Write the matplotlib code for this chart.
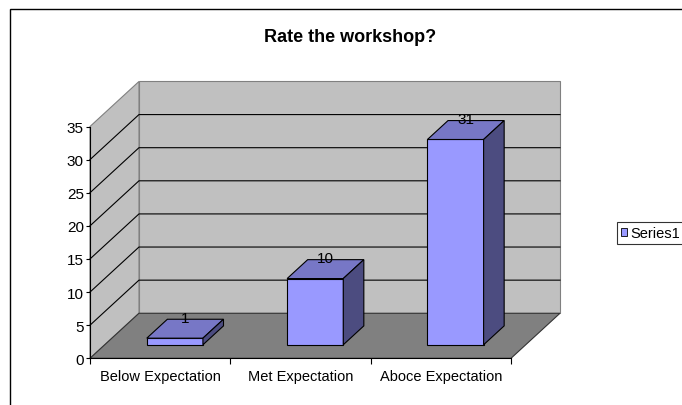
import matplotlib
matplotlib.use("Agg")
import matplotlib.pyplot as plt
from matplotlib.patches import Polygon, Patch, Rectangle

plt.rcParams['font.family'] = ['Liberation Sans', 'DejaVu Sans']

# chart data
categories = ['Below Expectation', 'Met Expectation', 'Aboce Expectation']
values = [1, 10, 31]
series_name = 'Series1'
title = 'Rate the workshop?'
yticks = [0, 5, 10, 15, 20, 25, 30, 35]

# oblique 3d look (depth offset in data units)
DX, DY = 0.349, 6.8
YMAX = 35
NCAT = len(categories)
BAR_HALF = 0.2
D0, D1 = 0.30, 0.72

FRONT = '#9999FF'
TOP = '#7777C6'
SIDE = '#4C4C80'
WALL = '#C0C0C0'
FLOOR = '#808080'


def proj(x, y, d):
    return (x + d * DX, y + d * DY)


def face(ax, pts, fc, ec, lw=0.8, z=1):
    poly = Polygon([proj(*p) for p in pts], closed=True, facecolor=fc,
                   edgecolor=ec, linewidth=lw, zorder=z, clip_on=False)
    ax.add_patch(poly)


fig = plt.figure(figsize=(6.82, 4.06), dpi=100)
ax = fig.add_axes([90 / 682, 1 - 359.3 / 406, 421 / 682, 231.8 / 406])
ax.set_xlim(0, NCAT)
ax.set_ylim(0, YMAX)
ax.patch.set_visible(False)

# walls and floor
face(ax, [(0, 0, 1), (NCAT, 0, 1), (NCAT, YMAX, 1), (0, YMAX, 1)], WALL, '#808080', z=0.5)
face(ax, [(0, 0, 0), (0, YMAX, 0), (0, YMAX, 1), (0, 0, 1)], WALL, '#808080', z=0.6)
face(ax, [(0, 0, 0), (NCAT, 0, 0), (NCAT, 0, 1), (0, 0, 1)], FLOOR, '#333333', z=0.7)

# gridlines on back and left walls
for v in yticks[1:-1]:
    x0, y0 = proj(0, v, 0)
    x1, y1 = proj(0, v, 1)
    x2, y2 = proj(NCAT, v, 1)
    ax.plot([x0, x1, x2], [y0, y1, y2], color='black', lw=0.8, zorder=0.8,
            clip_on=False)

# bars
for i, v in enumerate(values):
    xc = i + 0.5
    xa, xb = xc - BAR_HALF, xc + BAR_HALF
    face(ax, [(xa, 0, D0), (xb, 0, D0), (xb, v, D0), (xa, v, D0)], FRONT, 'black', z=3)
    face(ax, [(xa, v, D0), (xb, v, D0), (xb, v, D1), (xa, v, D1)], TOP, 'black', z=3)
    face(ax, [(xb, 0, D0), (xb, 0, D1), (xb, v, D1), (xb, v, D0)], SIDE, 'black', z=3)
    lx, _ = proj(xc, v, (D0 + D1) / 2)
    _, ly = proj(xc, v, D1)
    ax.text(lx, ly + 0.2, str(v), ha='center', va='center', fontsize=11,
            zorder=4, clip_on=False)

# axes
for s in ['top', 'right']:
    ax.spines[s].set_visible(False)
for s in ['left', 'bottom']:
    ax.spines[s].set_color('black')
    ax.spines[s].set_linewidth(0.8)
    ax.spines[s].set_zorder(2)
ax.set_yticks(yticks)
ax.tick_params(axis='y', direction='out', length=3, width=0.8, pad=1.5,
               labelsize=11)
ax.set_xticks(range(NCAT + 1))
ax.set_xticklabels([])
ax.set_xticks([i + 0.5 for i in range(NCAT)], minor=True)
ax.set_xticklabels(categories, minor=True)
ax.tick_params(axis='x', which='major', direction='out', length=4, width=0.8)
ax.tick_params(axis='x', which='minor', length=0, pad=8, labelsize=10.5)

fig.text(350 / 682, 1 - 38 / 406, title, ha='center', va='center',
         fontsize=13, fontweight='bold')

leg = fig.legend(handles=[Patch(facecolor=FRONT, edgecolor='black', linewidth=0.6)],
                 labels=[series_name], loc='upper left',
                 bbox_to_anchor=(617 / 682, 1 - 222.7 / 406), fontsize=10.5,
                 frameon=True, fancybox=False, borderpad=0.3,
                 handlelength=0.4, handleheight=0.4, handletextpad=0.2,
                 borderaxespad=0)
leg.get_frame().set_edgecolor('black')
leg.get_frame().set_linewidth(0.8)

# outer chart border
fig.patches.append(Rectangle((9.5 / 682, -0.5), 2, 1.5 - 9.5 / 406,
                             transform=fig.transFigure, fill=False,
                             edgecolor='black', linewidth=1))

fig.savefig('out.png', dpi=100)
